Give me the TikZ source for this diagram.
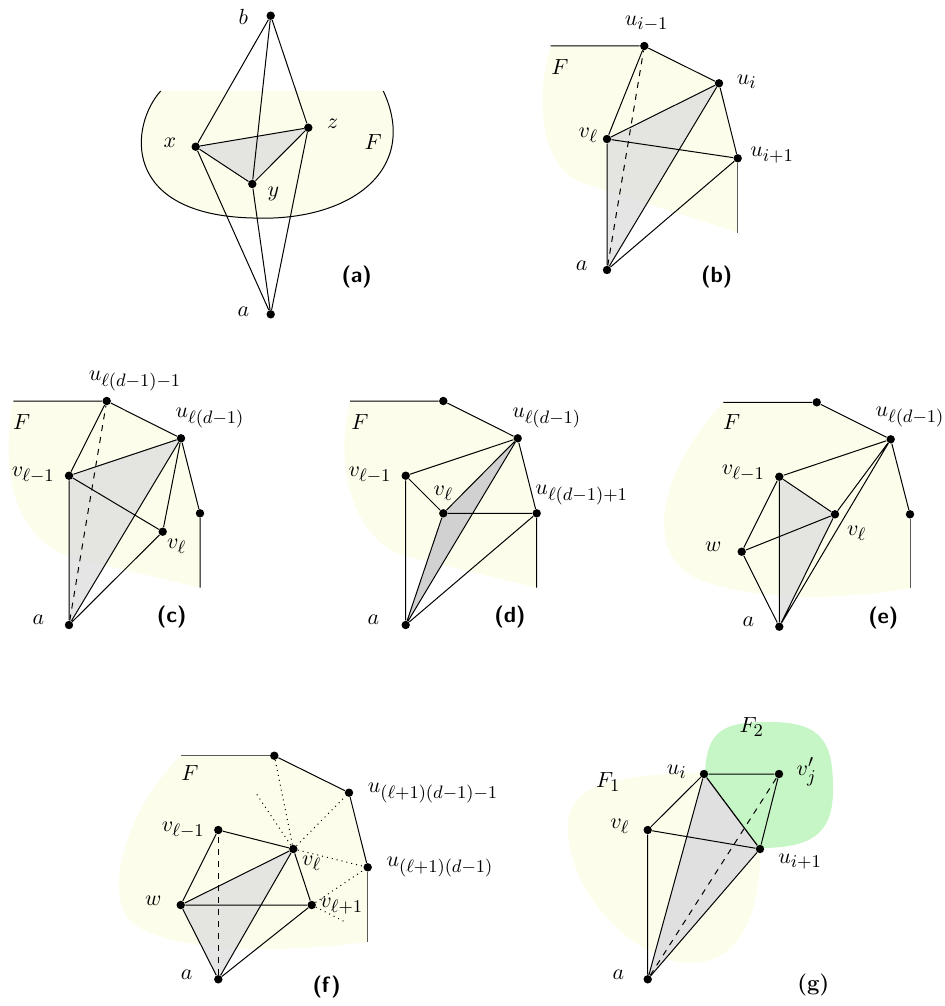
\documentclass[tikz,border=0pt]{standalone}
\usepackage{amsmath,amssymb}
\usepackage{xcolor}
\usepackage{tikz}
\usetikzlibrary{backgrounds}
\DeclareMathSizes{11}{11}{9}{7}
\definecolor{facecol}{RGB}{253,253,236}
\definecolor{greenface}{RGB}{198,245,198}

\begin{document}
\begin{tikzpicture}[x=0.5pt,y=-0.5pt,
  dot/.style={circle,fill=black,inner sep=0pt,minimum size=4.2pt},
  edge/.style={line width=0.5pt},
  stub/.style={line width=0.5pt,black!65},
  lbl/.style={inner sep=1pt,font=\fontsize{11}{13}\selectfont},
  face/.style={fill=facecol},
  shade/.style={fill=black!12,fill opacity=0.85},
  darkshade/.style={fill=black!18},
  tag/.style={font=\fontsize{11}{13}\selectfont\sffamily\bfseries}]
  \useasboundingbox (0,0) rectangle (944,1006);

  % (a)
  \node[dot] (bA) at (270.7,15.7) {};
  \node[dot] (xA) at (195.7,146.7) {};
  \node[dot] (zA) at (308.3,127.7) {};
  \node[dot] (yA) at (252.3,184) {};
  \node[dot] (aA) at (270.7,314.3) {};
  \draw[edge] (bA) -- (xA) (bA) -- (yA) (bA) -- (zA)
    (aA) -- (xA) (aA) -- (yA) (aA) -- (zA)
    (xA) -- (yA) -- (zA) -- (xA);
  \node[lbl] (lbA) at (243.3,16.7) {$b$};
  \node[lbl] (lxA) at (170,143) {$x$};
  \node[lbl] (lzA) at (332.7,123.3) {$z$};
  \node[lbl] (lyA) at (273.3,194) {$y$};
  \node[lbl] (laA) at (243.3,311.7) {$a$};
  \node[lbl] (lFA) at (373.3,141.7) {$F$};
  \node[tag] (tA) at (356.7,276.7) {(a)};
  \begin{scope}[on background layer]
    \fill[face] (160.7,91) .. controls (130,125) and (120,215) .. (253,218)
      .. controls (350,222) and (420,170) .. (383.3,91) -- cycle;
    \draw[edge] (160.7,91) .. controls (130,125) and (120,215) .. (253,218)
      .. controls (350,222) and (420,170) .. (383.3,91);
    \fill[shade] (xA.center) -- (yA.center) -- (zA.center) -- cycle;
  \end{scope}

  % (b)
  \coordinate (sB) at (550.7,46);
  \coordinate (eB) at (737.7,232.5);
  \node[dot] (u1B) at (644.3,46) {};
  \node[dot] (u2B) at (719,83.3) {};
  \node[dot] (vB) at (607,139) {};
  \node[dot] (u3B) at (737.7,158.3) {};
  \node[dot] (aB) at (607,270) {};
  \draw[edge] (sB) -- (u1B) -- (u2B) -- (u3B);
  \draw[stub] (u3B) -- (eB);
  \draw[edge] (vB) -- (u1B) (vB) -- (u2B) (vB) -- (u3B) (vB) -- (aB)
    (aB) -- (u2B) (aB) -- (u3B);
  \draw[edge,dashed] (aB) -- (u1B);
  \node[lbl] (lu1B) at (646.7,23.3) {$u_{i-1}$};
  \node[lbl] (lu2B) at (746.7,81.7) {$u_i$};
  \node[lbl] (lvB) at (588.3,135) {$v_\ell$};
  \node[lbl] (lu3B) at (772,155) {$u_{i+1}$};
  \node[lbl] (lFB) at (560,66.7) {$F$};
  \node[lbl] (laB) at (581.7,266) {$a$};
  \node[tag] (tB) at (716.7,276.7) {(b)};
  \begin{scope}[on background layer]
    \fill[face] (sB) -- (u1B.center) -- (u2B.center) -- (u3B.center) -- (eB)
      -- (583,183) .. controls (540,168) and (535,100) .. (sB) -- cycle;
    \fill[shade] (vB.center) -- (u2B.center) -- (aB.center) -- cycle;
  \end{scope}

  % (c)
  \coordinate (sC) at (13.3,401);
  \coordinate (eC) at (200,587.7);
  \node[dot] (u1C) at (106.7,401) {};
  \node[dot] (u2C) at (181,438.3) {};
  \node[dot] (vpC) at (69,475.7) {};
  \node[dot] (vC) at (162.7,531.7) {};
  \node[dot] (u3C) at (200,513.3) {};
  \node[dot] (aC) at (69,625) {};
  \draw[edge] (sC) -- (u1C) -- (u2C) -- (u3C) -- (eC);
  \draw[edge] (vpC) -- (u1C) (vpC) -- (u2C) (vpC) -- (vC) (vpC) -- (aC)
    (aC) -- (u2C) (aC) -- (vC) (u2C) -- (vC);
  \draw[edge,dashed] (aC) -- (u1C);
  \node[lbl] (lu1C) at (135,380.7) {$u_{\ell(d-1)-1}$};
  \node[lbl] (lu2C) at (210,418.3) {$u_{\ell(d-1)}$};
  \node[lbl] (lvpC) at (33.3,475) {$v_{\ell-1}$};
  \node[lbl] (lvC) at (176.7,546.7) {$v_\ell$};
  \node[lbl] (lFC) at (21.7,421.7) {$F$};
  \node[lbl] (laC) at (38.3,620) {$a$};
  \node[tag] (tC) at (171.7,616.7) {(c)};
  \begin{scope}[on background layer]
    \fill[face] (sC) -- (u1C.center) -- (u2C.center) -- (u3C.center) -- (eC)
      -- (75,558) .. controls (20,545) and (-2,480) .. (sC) -- cycle;
    \fill[shade] (vpC.center) -- (u2C.center) -- (aC.center) -- cycle;
  \end{scope}

  % (d)
  \coordinate (sD) at (350,401);
  \coordinate (eD) at (536.7,587.7);
  \node[dot] (u1D) at (443.3,401) {};
  \node[dot] (u2D) at (517.7,438.3) {};
  \node[dot] (vpD) at (405.7,475.7) {};
  \node[dot] (vD) at (443.3,513.3) {};
  \node[dot] (u3D) at (536.7,513.3) {};
  \node[dot] (aD) at (405.7,625) {};
  \draw[edge] (sD) -- (u1D) -- (u2D) -- (u3D) -- (eD);
  \draw[edge] (vpD) -- (u2D) (vpD) -- (vD) (vpD) -- (aD)
    (vD) -- (u2D) (vD) -- (u3D) (vD) -- (aD) (aD) -- (u2D) (aD) -- (u3D);
  \node[lbl] (lu2D) at (546.7,418.3) {$u_{\ell(d-1)}$};
  \node[lbl] (lu3D) at (581.7,495) {$u_{\ell(d-1)+1}$};
  \node[lbl] (lvpD) at (370,475) {$v_{\ell-1}$};
  \node[lbl] (lvD) at (443.3,493.3) {$v_\ell$};
  \node[lbl] (lFD) at (360,421.7) {$F$};
  \node[lbl] (laD) at (373.3,620) {$a$};
  \node[tag] (tD) at (510,616.7) {(d)};
  \begin{scope}[on background layer]
    \fill[face] (sD) -- (u1D.center) -- (u2D.center) -- (u3D.center) -- (eD)
      -- (405,556) .. controls (355,540) and (333,470) .. (sD) -- cycle;
    \fill[darkshade] (vD.center) -- (u2D.center) -- (aD.center) -- cycle;
  \end{scope}

  % (e)
  \coordinate (sE) at (723.3,402.3);
  \coordinate (eE) at (910,588.3);
  \node[dot] (u1E) at (816.7,402.3) {};
  \node[dot] (u2E) at (890.7,439.3) {};
  \node[dot] (vpE) at (779.3,476.7) {};
  \node[dot] (vE) at (835,514.3) {};
  \node[dot] (u3E) at (910,514.3) {};
  \node[dot] (wE) at (741.7,551.7) {};
  \node[dot] (aE) at (779.3,626.7) {};
  \draw[edge] (sE) -- (u1E) -- (u2E) -- (u3E);
  \draw[stub] (u3E) -- (eE);
  \draw[edge] (vpE) -- (u2E) (vpE) -- (vE) (vpE) -- (wE) (vpE) -- (aE)
    (wE) -- (vE) (wE) -- (aE) (vE) -- (u2E) (vE) -- (aE) (aE) -- (u2E);
  \node[lbl] (lu2E) at (910,416.7) {$u_{\ell(d-1)}$};
  \node[lbl] (lvpE) at (743.3,473.3) {$v_{\ell-1}$};
  \node[lbl] (lvE) at (856.7,533.3) {$v_\ell$};
  \node[lbl] (lwE) at (713.3,546.7) {$w$};
  \node[lbl] (lFE) at (731.7,421.7) {$F$};
  \node[lbl] (laE) at (748.3,621.7) {$a$};
  \node[tag] (tE) at (883.3,618.3) {(e)};
  \begin{scope}[on background layer]
    \fill[face] (sE) -- (u1E.center) -- (u2E.center) -- (u3E.center) -- (eE)
      .. controls (840,600) and (760,602) .. (700,580)
      .. controls (640,555) and (660,470) .. (sE) -- cycle;
    \fill[shade] (vpE.center) -- (vE.center) -- (aE.center) -- cycle;
  \end{scope}

  % (f)
  \coordinate (sF) at (180.7,755.7);
  \coordinate (eF) at (367.7,941.7);
  \coordinate (d1F) at (255,791.7);
  \coordinate (d2F) at (346.7,922.7);
  \node[dot] (u1F) at (274.3,755.7) {};
  \node[dot] (u2F) at (349,792.7) {};
  \node[dot] (u3F) at (367.7,867.3) {};
  \node[dot] (vpF) at (218.3,830) {};
  \node[dot] (vF) at (293.3,849) {};
  \node[dot] (wF) at (180.7,905) {};
  \node[dot] (vnF) at (311.7,905) {};
  \node[dot] (aF) at (218.3,979.3) {};
  \draw[stub] (sF) -- (u1F);
  \draw[edge] (u1F) -- (u2F) -- (u3F);
  \draw[stub] (u3F) -- (eF);
  \draw[edge] (vpF) -- (vF) (vpF) -- (wF) (wF) -- (vF) (wF) -- (vnF) (wF) -- (aF)
    (vF) -- (aF) (vF) -- (vnF) (vnF) -- (aF);
  \draw[edge,dashed] (aF) -- (vpF);
  \draw[edge,dotted] (vF) -- (u1F) (vF) -- (d1F) (vF) -- (u2F) (vF) -- (u3F)
    (vnF) -- (u3F) (vnF) -- (d2F);
  \node[lbl] (lu2F) at (433,793.3) {$u_{(\ell+1)(d-1)-1}$};
  \node[lbl] (lu3F) at (440,866.7) {$u_{(\ell+1)(d-1)}$};
  \node[lbl] (lvpF) at (183.3,830) {$v_{\ell-1}$};
  \node[lbl] (lvF) at (311.7,863.3) {$v_\ell$};
  \node[lbl] (lvnF) at (341.7,906) {$v_{\ell+1}$};
  \node[lbl] (lwF) at (153.3,900.7) {$w$};
  \node[lbl] (lFF) at (190,773.3) {$F$};
  \node[lbl] (laF) at (186.7,975) {$a$};
  \node[tag] (tF) at (326.7,986.7) {(f)};
  \begin{scope}[on background layer]
    \fill[face] (sF) -- (u1F.center) -- (u2F.center) -- (u3F.center) -- (eF)
      .. controls (300,952) and (180,955) .. (135,925)
      .. controls (100,900) and (125,810) .. (sF) -- cycle;
    \fill[shade] (wF.center) -- (vF.center) -- (aF.center) -- cycle;
  \end{scope}

  % (g)
  \node[dot] (uiG) at (704,774) {};
  \node[dot] (vjG) at (779,774) {};
  \node[dot] (vG) at (647.7,830) {};
  \node[dot] (ui1G) at (760,849) {};
  \node[dot] (aG) at (647.7,979.3) {};
  \draw[edge] (uiG) -- (vjG) -- (ui1G) (uiG) -- (vG) (vG) -- (ui1G) (vG) -- (aG)
    (aG) -- (uiG) (aG) -- (ui1G);
  \draw[semithick] (uiG) -- (ui1G);
  \draw[edge,dashed] (aG) -- (vjG);
  \node[lbl] (luiG) at (676.7,771.7) {$u_i$};
  \node[lbl] (lvjG) at (806.7,771.7) {$v'_j$};
  \node[lbl] (lvG) at (620,826.7) {$v_\ell$};
  \node[lbl] (lui1G) at (800,861.7) {$u_{i+1}$};
  \node[lbl] (lF1G) at (608.3,781.7) {$F_1$};
  \node[lbl] (lF2G) at (751.7,726.7) {$F_2$};
  \node[lbl] (laG) at (618.3,975) {$a$};
  \node[font=\fontsize{11}{13}\selectfont\bfseries] (tG) at (813.3,985) {(g)};
  \begin{scope}[on background layer]
    \fill[face] (704,772) .. controls (740,775) and (762,820) .. (760,860)
      .. controls (758,930) and (730,965) .. (686,963)
      .. controls (640,960) and (570,900) .. (568,830)
      .. controls (566,780) and (620,776) .. (704,772) -- cycle;
    \fill[greenface] (705,790) .. controls (703,730) and (720,722) .. (770,722)
      .. controls (825,722) and (833,745) .. (833,790)
      .. controls (833,835) and (810,848) .. (760,848)
      .. controls (720,848) and (706,830) .. (705,790) -- cycle;
    \fill[shade,fill opacity=1] (uiG.center) -- (ui1G.center) -- (aG.center) -- cycle;
  \end{scope}
\end{tikzpicture}
\end{document}
